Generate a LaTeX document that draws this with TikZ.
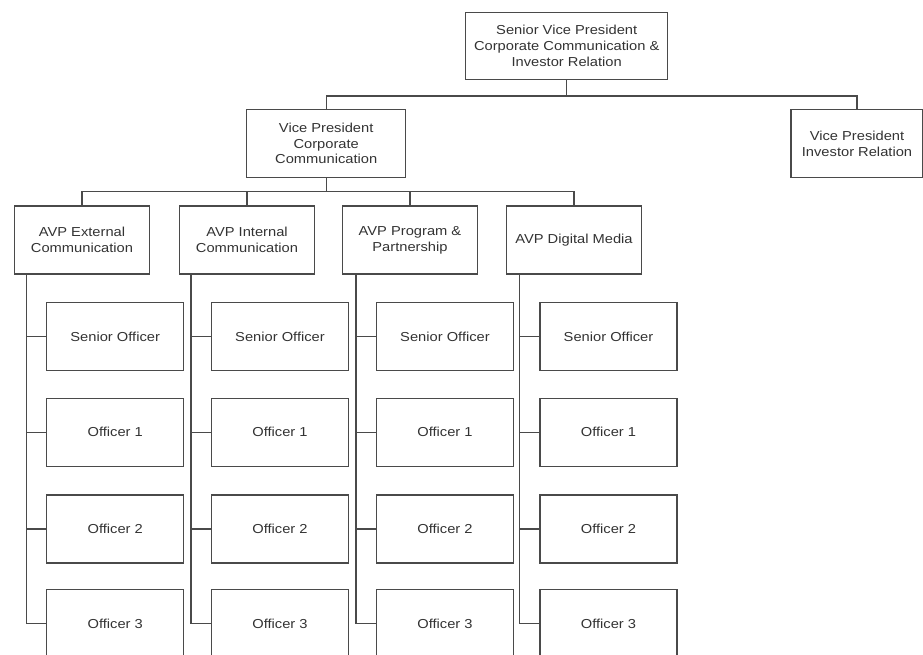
\documentclass[tikz,border=0pt]{standalone}
\usepackage{fontspec}
\setmainfont[FakeStretch=1.13]{Liberation Sans}
\usetikzlibrary{calc}
\definecolor{ln}{HTML}{4A4A4A}
\definecolor{tx}{HTML}{333333}
\begin{document}
\begin{tikzpicture}[x=1pt,y=-1pt,
  box/.style={draw=ln, line width=1.2pt, fill=white, rectangle, inner sep=2pt,
    align=center, text=tx, font=\fontsize{13}{15.7}\selectfont},
  conn/.style={draw=ln, line width=1.2pt}]
\useasboundingbox (0,0) rectangle (923,654);
\clip (0,0) rectangle (923,654);
% top levels
\node[box, minimum width=202pt, minimum height=66.6pt] (svp) at (566.7,46) {Senior Vice President\\Corporate Communication \&\\Investor Relation};
\node[box, minimum width=159pt, minimum height=68.4pt] (vpcc) at (326.2,143.5) {Vice President\\Corporate\\Communication};
\node[box, minimum width=132pt, minimum height=68.4pt] (vpir) at (857,143.5) {Vice President\\Investor Relation};
% AVPs
\node[box, minimum width=135pt, minimum height=68pt] (a1) at (82,240) {AVP External\\Communication};
\node[box, minimum width=135pt, minimum height=68pt] (a2) at (247,240) {AVP Internal\\Communication};
\node[box, minimum width=135pt, minimum height=68pt] (a3) at (410,240) {AVP Program \&\\Partnership};
\node[box, minimum width=135pt, minimum height=68pt] (a4) at (574,240) {AVP Digital Media};
% officers
\foreach \c/\x in {1/115.2,2/280,3/445,4/608.5}{
  \node[box, minimum width=137pt, minimum height=68pt] (s\c) at (\x,336.7) {Senior Officer};
  \node[box, minimum width=137pt, minimum height=68pt] (p\c) at (\x,432.3) {Officer 1};
  \node[box, minimum width=137pt, minimum height=68pt] (q\c) at (\x,529) {Officer 2};
  \node[box, minimum width=137pt, minimum height=68pt] (r\c) at (\x,623.5) {Officer 3};
}
% connectors top
\coordinate (b1) at (566.7,96);
\draw[conn] (svp.south) -- (b1);
\draw[conn] (vpcc.north) |- (b1) -| (vpir.north);
\coordinate (b2) at (326.2,191.7);
\draw[conn] (vpcc.south) -- (b2);
\draw[conn] (a1.north) |- (b2) -| (a4.north);
\draw[conn] (a2.north) -- (a2.north |- b2);
\draw[conn] (a3.north) -- (a3.north |- b2);
% spines
\foreach \c in {1,2,3,4}{
  \coordinate (sp\c) at ($(a\c.south -| s\c.west)+(-20,0)$);
  \draw[conn] (sp\c) |- (r\c.west);
  \draw[conn] (s\c.west) -- (s\c.west -| sp\c);
  \draw[conn] (p\c.west) -- (p\c.west -| sp\c);
  \draw[conn] (q\c.west) -- (q\c.west -| sp\c);
}
\end{tikzpicture}
\end{document}
